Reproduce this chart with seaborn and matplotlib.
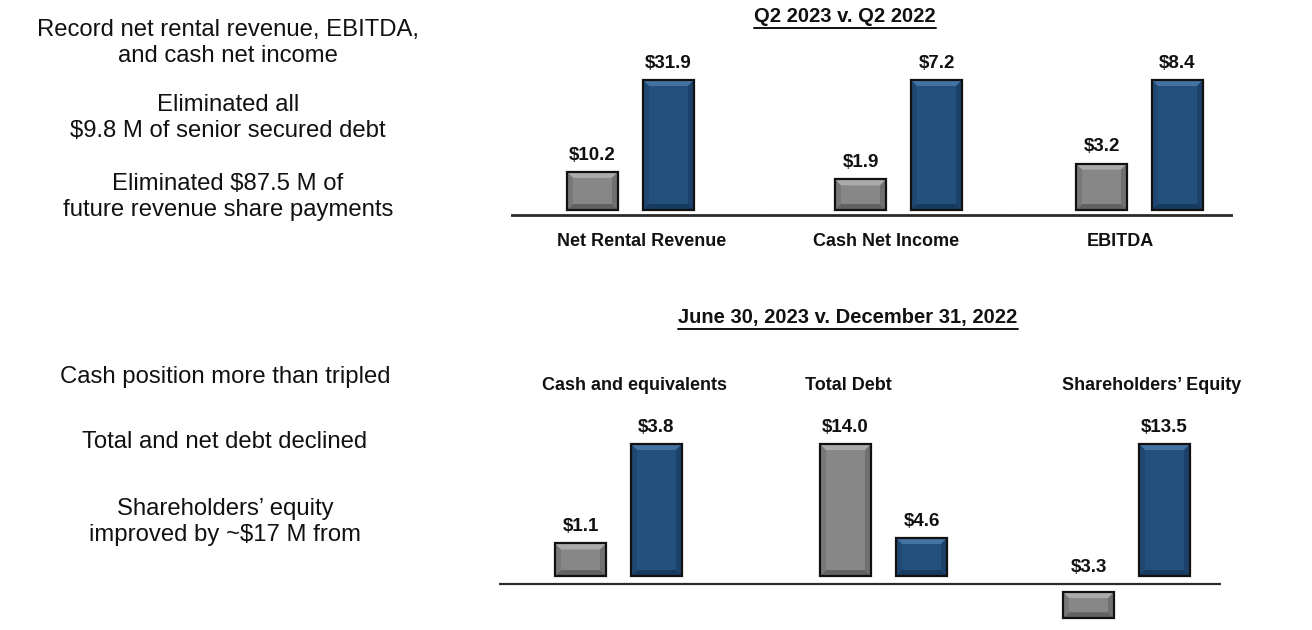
import numpy as np
import pandas as pd
import seaborn as sns
import matplotlib.pyplot as plt
from matplotlib.patches import Polygon

sns.set_style('white')
plt.rcParams['font.family'] = ['Liberation Sans', 'DejaVu Sans']

# ---- data (USD millions) ----
top_title = 'Q2 2023 v. Q2 2022'
top_metrics = ['Net Rental Revenue', 'Cash Net Income', 'EBITDA']
top_periods = ['Q2 2022', 'Q2 2023']
top_prior = [10.2, 1.9, 3.2]
top_current = [31.9, 7.2, 8.4]

bot_title = 'June 30, 2023 v. December 31, 2022'
bot_metrics = ['Cash and equivalents', 'Total Debt', 'Shareholders\u2019 Equity']
bot_periods = ['Dec 31, 2022', 'Jun 30, 2023']
bot_prior = [1.1, 14.0, -3.3]
bot_current = [3.8, 4.6, 13.5]

left_notes_top = ['Record net rental revenue, EBITDA,\nand cash net income',
                  'Eliminated all\n$9.8 M of senior secured debt',
                  'Eliminated $87.5 M of\nfuture revenue share payments']
left_notes_bot = ['Cash position more than tripled',
                  'Total and net debt declined',
                  'Shareholders\u2019 equity\nimproved by ~$17 M from']

# ---- layout (pixels) ----
W, H = 1312, 630
GRAY, GRAY_HI, GRAY_LO = '#878787', '#ababab', '#626262'
BLUE, BLUE_HI, BLUE_LO = '#24507e', '#4472a3', '#173a5f'

fig = plt.figure(figsize=(W / 100, H / 100), dpi=100)


def px_axes(x0, x1, y0, y1):
    # y measured from top of figure
    return fig.add_axes([x0 / W, 1 - y1 / H, (x1 - x0) / W, (y1 - y0) / H])


def bevel(ax, patch, hi, lo, sx, sy, gap):
    x = patch.get_x()
    w = patch.get_width()
    y = patch.get_y()
    h = patch.get_height()
    # lift bar off the baseline a little (shadow gap)
    if h >= 0:
        patch.set_y(y + gap / sy)
        patch.set_height(h - gap / sy)
    else:
        patch.set_y(y - gap / sy)
        patch.set_height(h + gap / sy)
    yb, yt = sorted([patch.get_y(), patch.get_y() + patch.get_height()])
    bx = 6 / sx
    by = 6 / sy
    top = Polygon([[x, yt], [x + w, yt], [x + w - bx, yt - by], [x + bx, yt - by]],
                  closed=True, facecolor=hi, edgecolor='none', zorder=3)
    bottom = Polygon([[x, yb], [x + w, yb], [x + w - bx, yb + by], [x + bx, yb + by]],
                     closed=True, facecolor=lo, edgecolor='none', zorder=3)
    left = Polygon([[x, yb], [x + bx, yb + by], [x + bx, yt - by], [x, yt]],
                   closed=True, facecolor=lo, edgecolor='none', alpha=0.4, zorder=3)
    right = Polygon([[x + w, yb], [x + w - bx, yb + by], [x + w - bx, yt - by], [x + w, yt]],
                    closed=True, facecolor=lo, edgecolor='none', alpha=0.6, zorder=3)
    for p in (top, bottom, left, right):
        ax.add_patch(p)
    outline = plt.Rectangle((x, yb), w, yt - yb, fill=False, edgecolor='#111111',
                            linewidth=1.6, zorder=4)
    ax.add_patch(outline)


def draw_row(metrics, periods, prior, current, tiles, first_centers, zero_px,
             ytop_px, ybot_px, max_px, gap, line_w):
    spacing = 76.0
    for i, m in enumerate(metrics):
        x0, x1 = tiles[i]
        ax = px_axes(x0, x1, ytop_px, ybot_px)
        df = pd.DataFrame({'period': periods, 'value': [prior[i], current[i]]})
        sns.barplot(data=df, x='period', y='value', hue='period',
                    palette=[GRAY, BLUE], width=51 / spacing, legend=False,
                    edgecolor='none', ax=ax, saturation=1)
        vmax = max(abs(prior[i]), abs(current[i]))
        sy = max_px / vmax
        sx = spacing
        c0 = first_centers[i]
        ax.set_xlim((x0 - c0) / sx, (x1 - c0) / sx)
        ax.set_ylim(-(ybot_px - zero_px) / sy, (zero_px - ytop_px) / sy)
        ax.axhline(0, color='#2b2b2b', linewidth=line_w, zorder=1)
        for j, patch in enumerate(ax.patches[:2]):
            hi, lo = (GRAY_HI, GRAY_LO) if j == 0 else (BLUE_HI, BLUE_LO)
            bevel(ax, patch, hi, lo, sx, sy, gap)
        for j, v in enumerate([prior[i], current[i]]):
            ax.annotate(f'${abs(v):.1f}', xy=(j, max(v, 0)), xytext=(0, 6),
                        textcoords='offset points', ha='center', va='bottom',
                        fontsize=13.5, fontweight='bold', color='#111111',
                        annotation_clip=False)
        ax.set_axis_off()


draw_row(top_metrics, top_periods, top_prior, top_current,
         tiles=[(511, 764), (764, 1010), (1010, 1233)],
         first_centers=[592.5, 860.5, 1101.5],
         zero_px=215, ytop_px=40, ybot_px=228, max_px=135, gap=5, line_w=2.0)

draw_row(bot_metrics, bot_periods, bot_prior, bot_current,
         tiles=[(499, 750), (750, 1000), (1000, 1221)],
         first_centers=[580.5, 845.5, 1088.5],
         zero_px=584, ytop_px=400, ybot_px=628, max_px=140, gap=8, line_w=1.6)

# category labels
for label, cx in zip(top_metrics, [642, 886, 1120]):
    fig.text(cx / W, 1 - 242 / H, label, ha='center', va='center',
             fontsize=13, fontweight='bold', color='#111111')
for label, cx in zip(bot_metrics, [635, 848, 1152]):
    fig.text(cx / W, 1 - 386 / H, label, ha='center', va='center',
             fontsize=13, fontweight='bold', color='#111111')

# section titles (underlined)
for title, cx, cy in [(top_title, 845, 17), (bot_title, 848, 318)]:
    t = fig.text(cx / W, 1 - cy / H, title, ha='center', va='center',
                 fontsize=14.5, fontweight='bold', color='#111111')
    fig.canvas.draw()
    bb = t.get_window_extent()
    fig.add_artist(plt.Line2D([bb.x0 / W, bb.x1 / W],
                              [(bb.y0 - 1) / H, (bb.y0 - 1) / H],
                              color='#111111', linewidth=1.4))

# left-hand commentary
for note, cy in zip(left_notes_top, [43, 118, 197]):
    fig.text(228 / W, 1 - cy / H, note, ha='center', va='center',
             fontsize=17.2, linespacing=1.2, color='#111111')
for note, cy in zip(left_notes_bot, [377, 442, 522]):
    fig.text(225 / W, 1 - cy / H, note, ha='center', va='center',
             fontsize=17.2, linespacing=1.28, color='#111111')

fig.savefig('out.png', dpi=100, facecolor='white')
